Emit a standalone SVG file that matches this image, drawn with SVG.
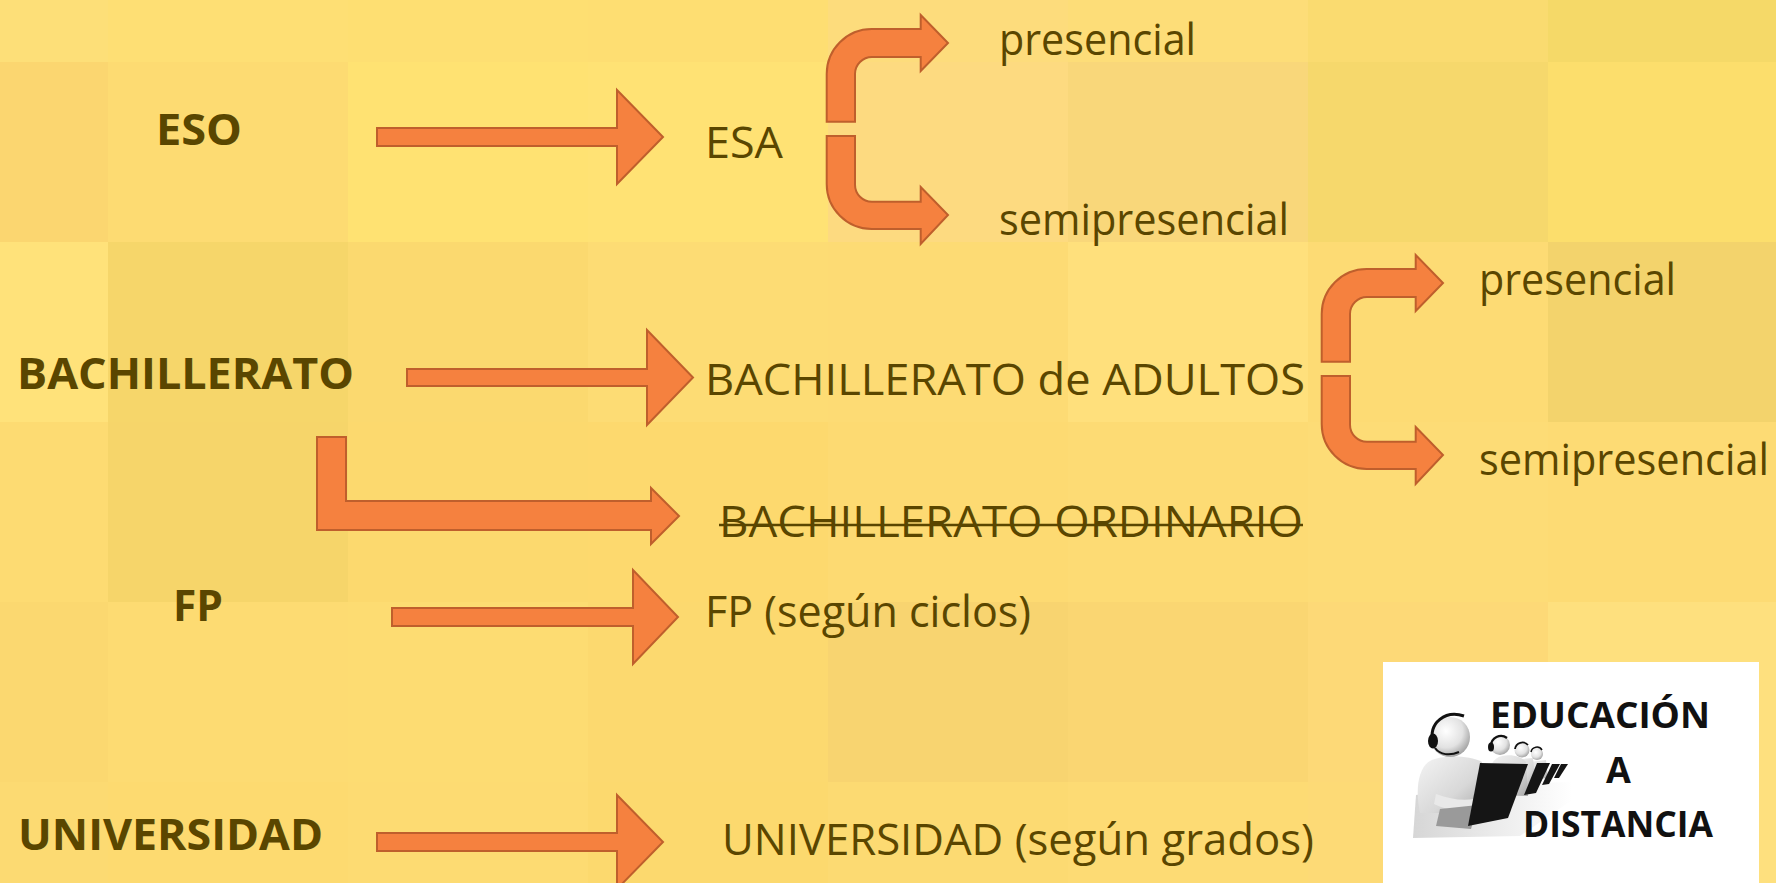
<svg xmlns="http://www.w3.org/2000/svg" width="1776" height="883" viewBox="0 0 1776 883">
<style>
.lbl{font-family:"Open Sans","Liberation Sans",sans-serif;font-size:43px;fill:#5A4600}
.b{font-weight:700}
.arr{fill:#F5813F;stroke:#BF5F2C;stroke-width:2;stroke-linejoin:miter}
.edu{font-family:"Open Sans","Liberation Sans",sans-serif;font-size:36px;font-weight:700;fill:#111}
.lap{fill:#151515}
</style>
<defs>
<path id="bentUp" class="arr" d="M826.7,121.7 V74 A45,45 0 0 1 871.7,29 H920.7 V15 L948,43 L920.7,71 V57 H872 A17,17 0 0 0 855,74 V121.7 Z"/>
<path id="bentDown" class="arr" d="M826.7,136 V184 A45,45 0 0 0 871.7,229 H920.7 V244 L948,215 L920.7,187 V201.7 H872 A17,17 0 0 1 855,184.7 V136 Z"/>
<radialGradient id="gHead" cx="0.4" cy="0.35" r="0.7">
<stop offset="0" stop-color="#ffffff"/><stop offset="0.6" stop-color="#e2e2e2"/><stop offset="1" stop-color="#9c9c9c"/>
</radialGradient>
<linearGradient id="gBody" x1="0" y1="0" x2="1" y2="1">
<stop offset="0" stop-color="#f4f4f4"/><stop offset="0.6" stop-color="#d8d8d8"/><stop offset="1" stop-color="#a8a8a8"/>
</linearGradient>
<linearGradient id="gFloor" x1="0" y1="0" x2="1" y2="0">
<stop offset="0" stop-color="#d6d6d6"/><stop offset="1" stop-color="#ffffff"/>
</linearGradient>
</defs>

<g id="background">
<rect x="0" y="0" width="1776" height="883" fill="#FDDB74"/>
<rect x="0" y="0" width="108" height="62" fill="#FDDF78"/>
<rect x="108" y="0" width="240" height="62" fill="#FEDF74"/>
<rect x="348" y="0" width="240" height="62" fill="#FEDF72"/>
<rect x="588" y="0" width="240" height="62" fill="#FEDE72"/>
<rect x="828" y="0" width="240" height="62" fill="#FDDC7C"/>
<rect x="1068" y="0" width="240" height="62" fill="#FDDD78"/>
<rect x="1308" y="0" width="240" height="62" fill="#FADB70"/>
<rect x="1548" y="0" width="228" height="62" fill="#F5D968"/>
<rect x="0" y="62" width="108" height="180" fill="#FBD670"/>
<rect x="108" y="62" width="240" height="180" fill="#FDDB72"/>
<rect x="348" y="62" width="240" height="180" fill="#FFE272"/>
<rect x="588" y="62" width="240" height="180" fill="#FFE274"/>
<rect x="828" y="62" width="240" height="180" fill="#FDDA80"/>
<rect x="1068" y="62" width="240" height="180" fill="#F9D77A"/>
<rect x="1308" y="62" width="240" height="180" fill="#F6D86C"/>
<rect x="1548" y="62" width="228" height="180" fill="#FCDE6C"/>
<rect x="0" y="242" width="108" height="180" fill="#FFE27A"/>
<rect x="108" y="242" width="240" height="180" fill="#F6D66A"/>
<rect x="348" y="242" width="240" height="180" fill="#FBD96F"/>
<rect x="588" y="242" width="240" height="180" fill="#FDDC74"/>
<rect x="828" y="242" width="240" height="180" fill="#FDDB74"/>
<rect x="1068" y="242" width="240" height="180" fill="#FFE07C"/>
<rect x="1308" y="242" width="240" height="180" fill="#FDDB74"/>
<rect x="1548" y="242" width="228" height="180" fill="#F3D36C"/>
<rect x="0" y="422" width="108" height="180" fill="#FDDB72"/>
<rect x="108" y="422" width="240" height="180" fill="#F6D56A"/>
<rect x="348" y="422" width="240" height="180" fill="#FCD96E"/>
<rect x="588" y="422" width="240" height="180" fill="#FDD96E"/>
<rect x="828" y="422" width="240" height="180" fill="#FDDA72"/>
<rect x="1068" y="422" width="240" height="180" fill="#FDDB74"/>
<rect x="1308" y="422" width="240" height="180" fill="#FDDC76"/>
<rect x="1548" y="422" width="228" height="180" fill="#FDDB74"/>
<rect x="0" y="602" width="108" height="180" fill="#FBD870"/>
<rect x="108" y="602" width="240" height="180" fill="#FDDB72"/>
<rect x="348" y="602" width="240" height="180" fill="#FDDC72"/>
<rect x="588" y="602" width="240" height="180" fill="#FCD96F"/>
<rect x="828" y="602" width="240" height="180" fill="#F8D470"/>
<rect x="1068" y="602" width="240" height="180" fill="#FAD672"/>
<rect x="1308" y="602" width="240" height="180" fill="#FDD977"/>
<rect x="1548" y="602" width="228" height="180" fill="#FEE07E"/>
<rect x="0" y="782" width="108" height="101" fill="#FCDA72"/>
<rect x="108" y="782" width="240" height="101" fill="#FDDA70"/>
<rect x="348" y="782" width="240" height="101" fill="#FDDB72"/>
<rect x="588" y="782" width="240" height="101" fill="#FCD96E"/>
<rect x="828" y="782" width="240" height="101" fill="#FCDA72"/>
<rect x="1068" y="782" width="240" height="101" fill="#FDDB74"/>
<rect x="1308" y="782" width="240" height="101" fill="#FDDA76"/>
<rect x="1548" y="782" width="228" height="101" fill="#FEE07E"/>
</g>

<g id="connectors">
<path id="arrow-eso" class="arr" d="M377,128 H617 V90 L663,137 L617,184 V146 H377 Z"/>
<use href="#bentUp"/>
<use href="#bentDown"/>
<path id="arrow-bach" class="arr" d="M407,369 H647 V330 L693,377.5 L647,425 V386 H407 Z"/>
<use href="#bentUp" transform="translate(495,240)"/>
<use href="#bentDown" transform="translate(495,240)"/>
<path id="arrow-ordinario" class="arr" d="M317,437 H346 V501 H651 V488 L679,516 L651,544 V530 H317 Z"/>
<path id="arrow-fp" class="arr" d="M392,608 H633 V570 L678,617 L633,664 V626 H392 Z"/>
<path id="arrow-univ" class="arr" d="M377,833 H617 V795 L663,842 L617,889 V851 H377 Z"/>
</g>

<g id="node-eso"><text class="lbl b" x="156" y="145" textLength="86" lengthAdjust="spacingAndGlyphs">ESO</text></g>
<g id="node-esa"><text class="lbl" x="705" y="158" textLength="78" lengthAdjust="spacingAndGlyphs">ESA</text></g>
<g id="node-presencial-1"><text class="lbl" x="999" y="55" textLength="197" lengthAdjust="spacingAndGlyphs">presencial</text></g>
<g id="node-semipresencial-1"><text class="lbl" x="999" y="235" textLength="290" lengthAdjust="spacingAndGlyphs">semipresencial</text></g>
<g id="node-bachillerato"><text class="lbl b" x="17" y="389" textLength="337" lengthAdjust="spacingAndGlyphs">BACHILLERATO</text></g>
<g id="node-bach-adultos"><text class="lbl" x="705" y="395" textLength="600" lengthAdjust="spacingAndGlyphs">BACHILLERATO de ADULTOS</text></g>
<g id="node-presencial-2"><text class="lbl" x="1479" y="295" textLength="197" lengthAdjust="spacingAndGlyphs">presencial</text></g>
<g id="node-semipresencial-2"><text class="lbl" x="1479" y="475" textLength="290" lengthAdjust="spacingAndGlyphs">semipresencial</text></g>
<g id="node-bach-ordinario">
<text class="lbl" x="719" y="537" textLength="584" lengthAdjust="spacingAndGlyphs">BACHILLERATO ORDINARIO</text>
<line x1="719" y1="525" x2="1303" y2="525" stroke="#5A4600" stroke-width="2.5"/>
</g>
<g id="node-fp"><text class="lbl b" x="173" y="621" textLength="50" lengthAdjust="spacingAndGlyphs">FP</text></g>
<g id="node-fp-ciclos"><text class="lbl" x="705" y="627" textLength="326" lengthAdjust="spacingAndGlyphs">FP (según ciclos)</text></g>
<g id="node-universidad"><text class="lbl b" x="18" y="850" textLength="305" lengthAdjust="spacingAndGlyphs">UNIVERSIDAD</text></g>
<g id="node-univ-grados"><text class="lbl" x="722" y="855" textLength="592" lengthAdjust="spacingAndGlyphs">UNIVERSIDAD (según grados)</text></g>

<g id="node-educacion-distancia">
<rect x="1383" y="662" width="376" height="221" fill="#ffffff"/>
<path d="M1413,838 L1416,795 L1500,784 L1572,782 L1572,800 L1520,836 Z" fill="url(#gFloor)"/>
<circle cx="1537" cy="754" r="6" fill="url(#gHead)"/>
<path d="M1531,752 A6,6 0 0 1 1542,750" stroke="#111" stroke-width="1.5" fill="none"/>
<path d="M1530,762 L1546,760 L1548,778 L1532,780 Z" fill="url(#gBody)"/>
<polygon class="lap" points="1561,764 1568,764 1559,778 1554,778"/>
<circle cx="1522" cy="750" r="7.5" fill="url(#gHead)"/>
<path d="M1515,749 A7.5,7.5 0 0 1 1528,745" stroke="#111" stroke-width="1.8" fill="none"/>
<path d="M1512,760 L1533,758 L1536,786 L1514,788 Z" fill="url(#gBody)"/>
<polygon class="lap" points="1552,764 1560,764 1549,784 1542,785"/>
<circle cx="1500" cy="745" r="10" fill="url(#gHead)"/>
<path d="M1491,746 A10,10 0 0 1 1507,738" stroke="#111" stroke-width="2.2" fill="none"/>
<ellipse cx="1491" cy="747" rx="3" ry="4.5" fill="#111"/>
<path d="M1488,795 C1486,775 1490,758 1502,756 C1512,754 1522,757 1526,762 L1528,796 Z" fill="url(#gBody)"/>
<polygon class="lap" points="1537,763 1550,763 1536,793 1524,795"/>
<path d="M1420,813 C1415,790 1418,768 1430,761 C1442,755 1468,755 1482,762 L1486,813 Z" fill="url(#gBody)"/>
<circle cx="1450" cy="737" r="20" fill="url(#gHead)"/>
<path d="M1433,743 C1428,722 1446,710 1464,716" stroke="#111" stroke-width="3" fill="none"/>
<ellipse cx="1433" cy="741" rx="5" ry="7.5" fill="#111"/>
<path d="M1435,748 C1440,755 1450,756 1459,752" stroke="#111" stroke-width="2" fill="none"/>
<path d="M1436,794 C1450,799 1462,801 1474,799 L1474,808 C1460,812 1445,810 1434,804 Z" fill="#e9e9e9"/>
<polygon points="1440,809 1478,805 1471,829 1436,826" fill="#9a9a9a"/>
<polygon class="lap" points="1480,763 1528,764 1508,818 1468,826"/>
<text class="edu" x="1490" y="728" textLength="220" lengthAdjust="spacingAndGlyphs">EDUCACIÓN</text>
<text class="edu" x="1618.5" y="783" text-anchor="middle">A</text>
<text class="edu" x="1523" y="837" textLength="190" lengthAdjust="spacingAndGlyphs">DISTANCIA</text>
</g>
</svg>
